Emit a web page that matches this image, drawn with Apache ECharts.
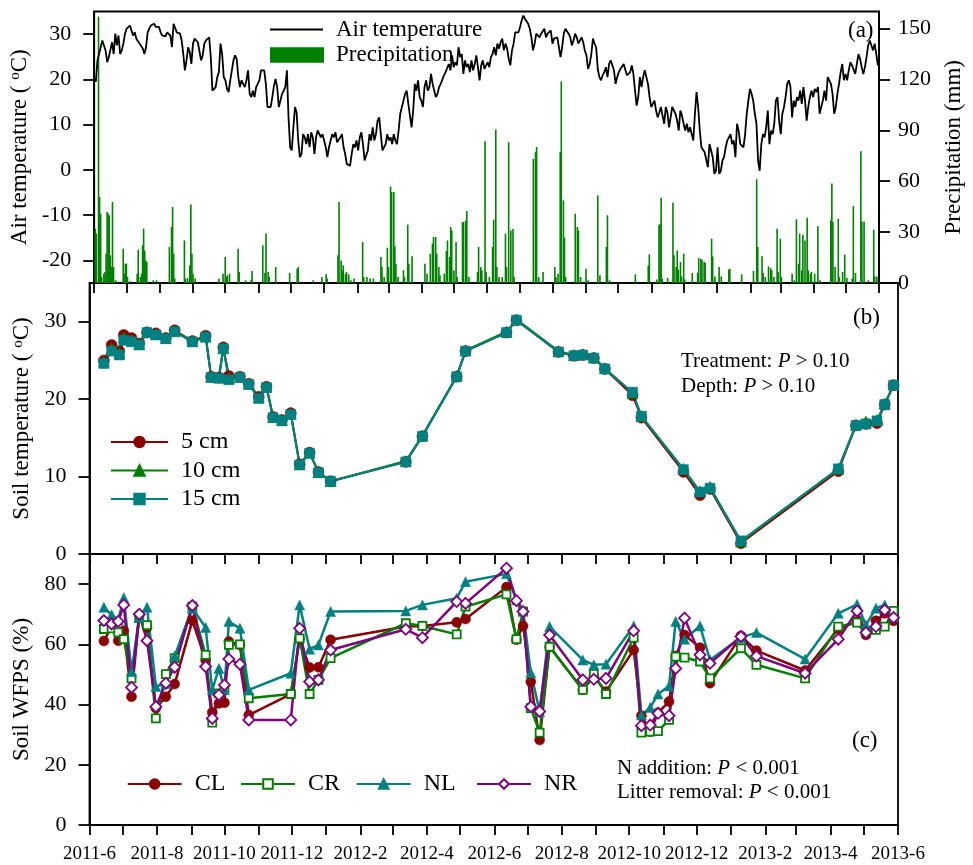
<!DOCTYPE html>
<html><head><meta charset="utf-8">
<script src="https://cdn.jsdelivr.net/npm/echarts@6/dist/echarts.min.js"></script>
<style>html,body{margin:0;padding:0;background:#fff}#c{width:973px;height:865px}</style>
</head><body><div id="c"></div>
<script>
// ---------------- DATA ----------------
const startDate = [2011, 6, 1];
const endDate = [2013, 6, 1];
const airTempStepDays = 1.508; // air temperature sampled every ~1.5 days from start
const airTemp = [
20.1,19.5,24.2,24.3,27.1,28.6,28.2,26.4,23.8,24.9,
25.3,28.2,25.6,30.1,27.5,29.7,25.6,26.4,27.9,30.1,
31.2,31.4,31.9,31.9,29.7,30.4,29.0,28.6,27.9,28.2,
26.8,25.6,27.1,30.4,31.2,31.9,32.3,32.3,31.6,31.2,
31.6,30.4,29.7,30.1,29.5,30.4,30.1,29.7,27.1,32.3,
32.1,30.4,30.8,30.1,28.6,25.6,22.0,24.2,27.1,26.0,
23.4,27.9,29.0,28.7,28.2,27.9,24.2,25.3,27.9,28.6,
29.0,29.3,24.9,17.5,17.9,18.3,20.5,21.6,27.9,25.6,
20.5,19.8,17.9,17.2,19.8,22.0,24.2,25.3,24.5,20.5,
18.3,19.8,19.0,18.3,19.8,22.0,16.8,16.1,17.5,16.1,
18.3,18.3,19.8,22.0,22.3,22.0,19.0,13.9,13.5,13.9,
16.1,18.6,20.1,18.3,13.9,15.3,16.8,17.5,18.3,22.0,
11.6,5.0,4.3,9.4,13.9,12.7,6.5,2.8,3.5,7.9,
7.2,5.7,7.9,5.0,8.3,7.2,3.5,7.2,8.7,8.3,
7.2,7.9,6.5,5.0,2.8,
5.0,6.5,7.9,7.2,8.3,6.1,5.7,7.2,7.9,5.0,
3.5,1.3,0.9,0.9,3.5,5.7,5.0,6.5,4.3,7.2,
8.3,5.7,2.1,2.4,4.3,7.9,6.5,9.4,6.5,7.9,
10.9,11.6,7.9,4.3,5.0,5.7,7.9,6.5,7.2,5.7,
7.9,6.5,5.7,8.7,12.4,12.4,15.3,16.8,17.5,14.6,
12.0,9.4,13.1,19.0,17.5,19.8,16.1,15.3,13.9,18.3,
19.8,17.5,18.3,21.2,19.0,17.5,16.1,16.8,18.3,19.0,
19.4,20.9,21.6,21.2,23.4,22.0,25.3,22.7,23.8,23.1,
27.1,24.9,25.6,21.2,24.2,22.7,23.4,21.6,24.2,22.0,
23.4,25.3,22.7,19.8,23.1,24.2,22.3,22.7,23.8,22.7,
24.9,25.6,27.1,25.3,27.9,26.8,28.2,29.0,26.4,27.9,
26.8,24.5,23.1,26.4,27.9,30.4,30.8,30.4,31.6,33.0,
34.1,33.4,33.8,32.3,31.2,29.3,26.4,27.9,30.1,30.4,
29.3,30.1,29.7,31.2,29.3,30.1,29.7,30.8,27.9,29.0,
28.6,29.3,27.1,24.9,27.1,30.1,31.2,31.6,30.1,29.3,
27.5,28.6,30.1,29.3,27.9,28.6,29.3,28.2,26.4,25.3,
22.3,23.4,25.6,29.0,27.9,27.1,22.3,20.5,19.8,20.9,
21.6,22.7,20.5,23.4,24.2,24.5,22.0,19.0,20.5,21.6,
22.3,22.7,23.4,23.1,20.9,20.5,21.6,23.1,21.2,17.5,
14.2,16.1,
20.5,18.3,20.5,22.0,21.6,19.0,16.1,13.9,14.6,15.3,
13.1,11.6,12.7,13.9,12.0,10.2,13.9,12.7,9.4,11.6,
13.9,13.5,12.4,10.9,8.7,13.1,12.0,10.2,8.7,10.2,
8.3,9.4,9.0,6.5,12.4,17.2,13.9,8.7,5.0,4.6,
3.9,4.3,0.6,5.7,5.7,2.8,-0.9,-0.2,5.0,-0.9,
-0.2,2.1,2.8,5.0,6.5,7.2,7.9,5.7,6.5,2.8,
10.2,8.7,5.7,5.4,5.0,7.9,12.4,15.3,17.9,16.8,
15.3,12.4,10.2,2.1,-0.2,5.7,7.9,7.2,9.4,13.1,
5.7,8.7,7.9,10.2,15.3,16.1,10.9,7.9,12.4,13.9,
16.1,19.0,19.8,18.3,11.6,15.3,13.9,16.1,15.3,17.5,
14.6,18.3,15.3,10.9,13.9,16.1,17.5,16.1,17.9,17.2,
18.3,12.4,13.9,15.3,17.5,15.3,20.5,20.5,19.0,16.8,
12.4,13.9,16.8,19.0,21.6,23.4,19.8,21.2,19.8,22.0,
23.8,23.1,22.7,21.2,23.4,25.6,24.5,22.7,21.2,22.7,
24.9,27.5,28.6,28.2,26.4,27.9,25.6,23.1
];
// precipitation events: day offset from 2011-06-01, and amount (mm)
const precipDay = [
1,2,4,5,6,7,9,10,11,12,13,14,15,16,17,18,20,27,28,29,30,31,34,40,41,43,44,45,46,47,48,49,55,58,70,72,73,74,75,84,85,87,89,90,91,92,94,116,120,122,123,124,126,134,135,141,146,147,157,159,160,162,163,169,182,189,190,204,212,216,
217,227,228,230,231,232,234,235,237,239,242,250,251,254,257,260,267,268,270,273,274,276,277,279,280,281,283,288,289,292,293,296,308,310,313,315,316,318,319,321,322,326,328,329,331,332,333,335,337,338,343,344,346,347,349,357,358,360,361,364,365,368,371,372,374,375,377,380,383,384,386,388,390,391,409,411,412,414,418,429,430,432,434,435,437,438,439,448,450,451,453,458,460,469,471,477,478,480,504,
516,517,524,526,527,528,529,534,539,540,542,543,544,546,547,549,550,557,562,563,565,566,568,569,575,576,578,582,584,591,592,603,614,617,618,622,623,625,628,630,631,633,636,637,639,640,650,652,654,656,657,659,660,662,664,665,667,668,671,674,676,686,687,688,690,693,694,697,699,701,706,707,709,714,715,717,721,726,727,729
];
const precipMm = [
32.0,29.1,157.0,50.6,40.8,3.5,5.5,6.5,17.3,41.8,40.8,39.9,16.3,9.4,47.7,9.4,1.6,20.2,5.5,11.4,11.4,3.5,1.0,5.5,19.6,3.5,5.5,22.2,32.0,19.2,13.3,12.4,1.6,1.6,21.2,33.0,44.8,17.3,2.6,25.1,2.6,2.9,10.4,46.3,17.3,5.5,2.6,2.6,5.5,15.3,3.5,4.5,5.5,20.2,6.5,1.6,1.6,7.1,22.2,5.9,29.1,6.5,3.5,9.4,5.9,8.4,9.4,1.6,3.5,5.1,
2.6,16.3,47.7,13.3,7.5,10.4,5.5,6.5,5.1,1.6,2.6,24.1,3.5,3.5,2.6,2.6,15.3,9.4,3.5,20.8,9.4,56.9,53.6,53.6,21.6,11.4,3.5,7.5,3.5,34.4,11.4,15.7,11.4,5.5,17.3,23.2,27.1,27.1,17.3,9.4,4.5,5.5,18.8,25.1,15.3,33.0,31.0,7.5,24.1,3.5,35.9,35.9,36.9,42.4,3.5,6.5,21.2,9.4,7.5,83.6,6.5,3.5,21.2,37.3,90.5,9.4,3.5,3.5,29.1,9.4,83.0,31.0,31.8,3.5,73.2,77.1,80.1,3.5,6.5,9.4,3.5,5.5,77.1,118.8,48.7,26.7,3.5,40.8,33.0,31.0,3.5,8.4,1.6,51.6,4.5,21.2,39.9,1.6,5.1,
10.4,16.9,2.0,34.0,34.9,50.3,2.6,3.1,47.3,16.3,9.4,19.2,7.9,12.4,3.9,17.3,2.0,5.9,5.9,14.7,14.1,13.7,12.4,11.8,26.1,15.7,3.9,9.4,3.9,7.9,8.4,5.1,7.1,61.1,21.2,15.7,5.9,3.5,9.8,8.8,7.5,3.5,32.0,6.5,26.1,3.5,5.5,1.6,37.5,11.4,29.1,7.5,28.5,25.1,38.5,7.5,5.5,6.5,5.5,33.4,1.6,36.9,58.7,35.9,9.4,37.9,3.5,6.5,16.7,2.9,2.6,45.3,5.9,77.7,36.3,36.3,1.6,31.4,3.9,3.9
];
// soil temperature (panel b)
const soilDates = ['2011-06-14','2011-06-21','2011-06-28','2011-07-02','2011-07-09','2011-07-16','2011-07-23','2011-07-31','2011-08-09','2011-08-17',
'2011-09-02','2011-09-14','2011-09-19','2011-09-26','2011-09-30','2011-10-05','2011-10-15','2011-10-23','2011-11-01','2011-11-08',
'2011-11-14','2011-11-22','2011-11-30','2011-12-08','2011-12-17','2011-12-25','2012-01-05','2012-03-13','2012-03-28','2012-04-28',
'2012-05-06','2012-06-12','2012-06-21','2012-07-29','2012-08-12','2012-08-20','2012-08-30','2012-09-09','2012-10-04','2012-10-12',
'2012-11-19','2012-12-04','2012-12-13','2013-01-10','2013-04-08','2013-04-24','2013-05-03','2013-05-13','2013-05-20','2013-05-28'];
const soil5 = [25.0,27.0,26.2,28.3,27.9,27.2,28.6,28.5,27.9,28.9,27.5,28.2,22.9,22.8,26.7,23.0,22.9,22.0,20.3,21.6,17.7,17.3,18.2,11.6,13.1,10.6,9.4,11.9,15.2,22.9,26.2,28.6,30.2,26.1,25.6,25.7,25.3,23.9,20.5,17.6,10.6,7.6,8.4,1.4,10.7,16.6,16.8,16.9,19.3,21.8];
const soil10 = [24.9,26.6,26.0,28.0,27.7,27.1,28.7,28.4,27.9,28.8,27.5,28.1,22.9,22.8,26.6,22.7,22.9,22.0,20.2,21.6,17.7,17.3,18.1,11.6,13.1,10.6,9.4,12.0,15.3,23.0,26.3,28.7,30.3,26.2,25.7,25.8,25.4,24.0,20.8,17.8,11.0,8.1,8.7,1.6,11.0,16.7,17.1,17.3,19.4,21.9];
const soil15 = [24.6,26.2,25.7,27.6,27.4,27.0,28.6,28.3,27.8,28.7,27.4,28.0,22.8,22.7,26.5,22.5,22.8,21.9,20.1,21.5,17.6,17.2,18.0,11.5,13.0,10.5,9.4,11.9,15.2,22.9,26.2,28.6,30.2,26.1,25.6,25.7,25.3,23.9,20.9,17.8,10.9,8.0,8.5,1.7,11.0,16.6,16.8,17.2,19.3,21.8];
// soil WFPS (panel c)
const wfpsDates = ['2011-06-14','2011-06-21','2011-06-27','2011-07-02','2011-07-09','2011-07-16','2011-07-23','2011-07-31','2011-08-09','2011-08-17',
'2011-09-02','2011-09-14','2011-09-20','2011-09-26','2011-10-01','2011-10-05','2011-10-15','2011-10-23','2011-11-30','2011-12-08',
'2011-12-17','2011-12-25','2012-01-05','2012-03-13','2012-03-28','2012-04-28','2012-05-06','2012-06-12','2012-06-21','2012-06-27',
'2012-07-04','2012-07-12','2012-07-21','2012-08-20','2012-08-30','2012-09-10','2012-10-05','2012-10-12','2012-10-20','2012-10-27',
'2012-11-06','2012-11-12','2012-11-20','2012-12-04','2012-12-13','2013-01-10','2013-01-24','2013-03-09','2013-04-08','2013-04-25',
'2013-05-03','2013-05-12','2013-05-20','2013-05-28'];
const wfpsCL = [61.1,65.9,61.2,64.5,42.6,69.8,65.6,38.8,42.6,46.8,67.9,54.8,37.4,40.4,40.6,60.9,59.8,36.5,43.5,61.8,52.3,52.4,61.5,65.9,66.1,67.3,68.4,79.0,61.5,66.1,47.6,28.2,59.2,44.9,49.3,44.3,58.1,36.3,31.0,37.3,41.0,56.1,63.1,58.9,47.1,62.8,57.9,51.3,65.1,67.6,63.1,67.8,70.3,67.8];
const wfpsCR = [65.1,65.3,64.0,61.7,48.7,68.7,66.4,35.4,50.1,55.4,72.5,56.5,34.0,43.7,45.4,59.8,60.0,42.1,43.5,62.0,43.5,48.2,55.4,67.0,66.1,63.3,72.5,76.6,61.7,70.9,38.8,30.7,59.2,44.9,50.2,43.5,62.2,30.7,31.0,31.2,34.9,55.9,55.6,54.3,48.7,58.7,53.2,48.7,65.9,67.2,64.2,64.8,65.9,71.1];
const wfpsNL = [72.3,69.8,68.1,75.5,50.9,69.2,72.3,46.0,47.0,56.1,72.0,65.6,44.9,52.0,44.9,67.6,65.3,44.9,50.4,73.1,58.4,59.8,70.9,71.1,73.1,75.3,80.8,83.4,74.8,71.1,50.6,37.7,65.9,54.8,53.2,53.4,66.1,36.5,39.0,43.5,46.2,67.6,61.7,66.1,54.8,62.3,63.9,55.1,70.3,73.3,66.4,72.0,73.1,69.2];
const wfpsNR = [67.9,66.8,67.6,73.1,45.7,70.0,61.2,39.3,47.1,52.4,72.9,52.6,35.4,43.2,46.5,55.1,53.4,34.9,34.9,65.3,47.6,48.2,58.1,65.0,62.2,74.2,73.6,85.3,74.5,70.9,39.3,37.7,63.1,48.2,48.4,48.7,64.5,33.0,33.2,37.1,36.3,52.0,68.7,56.5,53.7,62.6,56.1,50.4,61.7,71.1,63.9,65.9,71.4,68.9];
// tick values
const airTicks = [-20,-10,0,10,20,30];
const precipTicks = [0,30,60,90,120,150];
const soilTicks = [0,10,20,30];
const wfpsTicks = [0,20,40,60,80];

// ---------------- CHART ----------------
const FONT = "'Liberation Serif','DejaVu Serif',serif";
const DAY = 86400000;
const T0 = Date.UTC(startDate[0], startDate[1]-1, startDate[2]);
const T1 = Date.UTC(endDate[0], endDate[1]-1, endDate[2]);
const monthTicks = [];
for (let m = 0; m <= 24; m++) monthTicks.push(Date.UTC(2011, 5 + m, 1));
const monthLabels = monthTicks.filter((_, i) => i % 2 === 0);
const toTime = s => { const p = s.split('-').map(Number); return Date.UTC(p[0], p[1]-1, p[2]); };
const fmtMonth = v => { const d = new Date(v); return d.getUTCFullYear() + '-' + (d.getUTCMonth() + 1); };

const airData = airTemp.map((v, k) => [T0 + k * airTempStepDays * DAY, v]);
const precipData = precipDay.map((d, i) => [T0 + d * DAY, precipMm[i]]);
const pair = (dates, vals) => dates.map((s, i) => [toTime(s), vals[i]]);

const AX = {color:'#000', width:1.8};
function xAx(gi, showLabels) {
  return {type:'value', gridIndex:gi, min:T0, max:T1,
    axisLine:{show:true, onZero:false, lineStyle:AX},
    axisTick:{show:true, inside:false, length:10, customValues:monthTicks, lineStyle:AX},
    axisLabel:{show:showLabels, customValues:monthLabels, formatter:fmtMonth, fontFamily:FONT, fontSize:19, color:'#000', margin:20},
    splitLine:{show:false}};
}
function yAx(gi, min, max, ticks, name, extra) {
  return Object.assign({type:'value', gridIndex:gi, min:min, max:max,
    axisLine:{show:true, onZero:false, lineStyle:AX},
    axisTick:{show:true, inside:false, length:11, customValues:ticks, lineStyle:AX},
    axisLabel:{customValues:ticks, fontFamily:FONT, fontSize:22, color:'#000', margin:23},
    splitLine:{show:false},
    name:name, nameLocation:'middle', nameRotate:90, nameGap:50,
    nameTextStyle:{fontFamily:FONT, fontSize:23, color:'#000',
      rich:{sup:{fontFamily:FONT, fontSize:15, color:'#000', verticalAlign:'top'}}}
  }, extra || {});
}
const gridBase = {left:89.5, right:75, show:true, borderColor:'#000', borderWidth:1.8, backgroundColor:'transparent'};

function lineSer(name, xi, yi, data, color, symbol, size, hollow, lw) {
  return {name:name, type:'line', xAxisIndex:xi, yAxisIndex:yi, data:data,
    symbol:symbol, symbolSize:size, showSymbol:true,
    lineStyle:{color:color, width:lw},
    itemStyle: hollow ? {color:'#fff', borderColor:color, borderWidth:1.8} : {color:color, borderColor:color, borderWidth:0.5},
    emphasis:{disabled:true}, z:3};
}
const legText = {fontFamily:FONT, fontSize:24, color:'#000', padding:[0,0,0,8]};
function oneLegend(name, left, top, w) {
  return {data:[name], left:left, top:top, padding:0, itemWidth:w, itemHeight:12, textStyle:legText, selectedMode:false};
}

const option = {
  animation:false,
  backgroundColor:'#fff',
  grid:[
    Object.assign({top:11.5, height:271.5}, gridBase),
    Object.assign({top:283, height:271}, gridBase),
    Object.assign({top:554, height:271}, gridBase)
  ],
  xAxis:[xAx(0,false), xAx(1,false), xAx(2,true)],
  yAxis:[
    yAx(0, -25, 35, airTicks, 'Air temperature ( {sup|o}C)'),
    yAx(0, 0, 160, precipTicks, 'Precipitation (mm)', {position:'right', nameGap:57,
      axisLabel:{customValues:precipTicks, fontFamily:FONT, fontSize:22, color:'#000', margin:19}}),
    yAx(1, 0, 35, soilTicks, 'Soil temperature ( {sup|o}C)', {nameGap:49}),
    yAx(2, 0, 90, wfpsTicks, 'Soil WFPS (%)', {nameGap:51})
  ],
  legend:[
    {data:[{name:'Air temperature', icon:'rect'}], left:270, top:18, padding:0,
     itemWidth:53, itemHeight:1.8, selectedMode:false,
     textStyle:{fontFamily:FONT, fontSize:23, color:'#000', padding:[0,0,0,8]}},
    {data:[{name:'Precipitation', icon:'rect'}], left:270, top:43.5, padding:0,
     itemWidth:54, itemHeight:15.5, selectedMode:false,
     textStyle:{fontFamily:FONT, fontSize:23, color:'#000', padding:[0,0,0,7]}},
    {data:['5 cm','10 cm','15 cm'], orient:'vertical', left:110, top:430, padding:0, itemWidth:57, itemHeight:13, itemGap:4.5,
     selectedMode:false, textStyle:legText},
    oneLegend('CL', 126.7, 772, 54),
    oneLegend('CR', 240, 772, 54),
    oneLegend('NL', 355.7, 772, 54),
    oneLegend('NR', 476, 772, 54)
  ],
  series:[
    {name:'Precipitation', type:'bar', xAxisIndex:0, yAxisIndex:1, data:precipData, barWidth:1.6,
     itemStyle:{color:'#008000'}, emphasis:{disabled:true}, z:2},
    {name:'Air temperature', type:'line', xAxisIndex:0, yAxisIndex:0, data:airData, symbol:'none',
     lineStyle:{color:'#000', width:1.8}, itemStyle:{color:'#000'}, emphasis:{disabled:true}, z:3},
    lineSer('5 cm', 1, 2, pair(soilDates, soil5), '#8B0000', 'circle', 11, false, 2),
    lineSer('10 cm', 1, 2, pair(soilDates, soil10), '#008000', 'triangle', 11, false, 2),
    lineSer('15 cm', 1, 2, pair(soilDates, soil15), '#008080', 'rect', 10, false, 2),
    lineSer('CL', 2, 3, pair(wfpsDates, wfpsCL), '#8B0000', 'circle', 10, false, 2.5),
    lineSer('CR', 2, 3, pair(wfpsDates, wfpsCR), '#008000', 'rect', 8, true, 2.5),
    lineSer('NL', 2, 3, pair(wfpsDates, wfpsNL), '#008080', 'triangle', 10, false, 2.5),
    lineSer('NR', 2, 3, pair(wfpsDates, wfpsNR), '#800080', 'diamond', 11, true, 2.5)
  ],
  graphic:[
    {type:'text', left:848, top:19, style:{text:'(a)', font:'23px ' + FONT, fill:'#000'}},
    {type:'text', left:853, top:306, style:{text:'(b)', font:'23px ' + FONT, fill:'#000'}},
    {type:'text', left:852, top:729, style:{text:'(c)', font:'23px ' + FONT, fill:'#000'}},
    {type:'text', left:681, top:351, style:{text:'Treatment: {i|P} > 0.10', font:'21px ' + FONT, fill:'#000',
      rich:{i:{fontStyle:'italic', fontFamily:FONT, fontSize:21, fill:'#000'}}}},
    {type:'text', left:681, top:376, style:{text:'Depth: {i|P} > 0.10', font:'21px ' + FONT, fill:'#000',
      rich:{i:{fontStyle:'italic', fontFamily:FONT, fontSize:21, fill:'#000'}}}},
    {type:'text', left:617, top:758, style:{text:'N addition: {i|P} < 0.001', font:'21px ' + FONT, fill:'#000',
      rich:{i:{fontStyle:'italic', fontFamily:FONT, fontSize:21, fill:'#000'}}}},
    {type:'text', left:617, top:782, style:{text:'Litter removal: {i|P} < 0.001', font:'21px ' + FONT, fill:'#000',
      rich:{i:{fontStyle:'italic', fontFamily:FONT, fontSize:21, fill:'#000'}}}}
  ]
};
const chart = echarts.init(document.getElementById('c'), null, {renderer:'canvas'});
chart.setOption(option);
</script></body></html>
